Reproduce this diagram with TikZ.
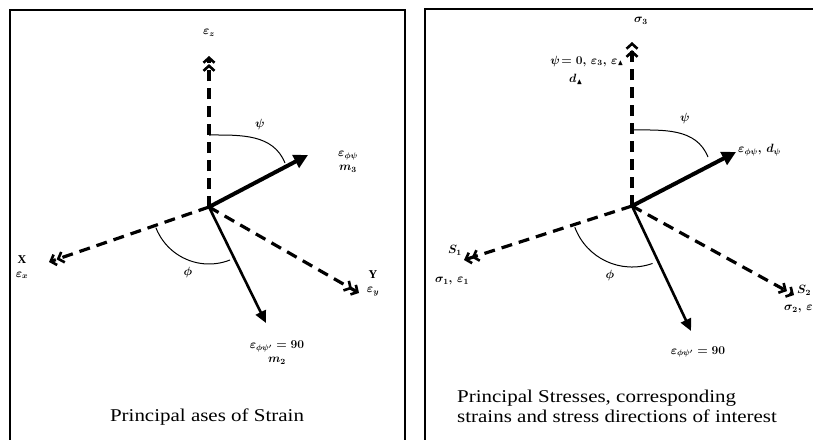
\documentclass[tikz,border=0pt]{standalone}
\usepackage{amsmath,amssymb}
\usepackage{fontspec}
\setmainfont{Liberation Serif}
\usetikzlibrary{arrows.meta,calc}
\tikzset{
  axisline/.style={line width=3.2pt, dash pattern=on 11pt off 7pt,
    -{Straight Barb[length=5pt,width=11pt,line width=2.6pt]Straight Barb[length=5pt,width=11pt,line width=2.6pt]}},
  thickarrow/.style={line width=4pt, -{Triangle[length=14pt,width=14pt]}},
  thinarrow/.style={line width=2.6pt, -{Triangle[length=12pt,width=11pt]}},
  arcline/.style={line width=1pt},
  frameline/.style={line width=1.8pt},
  lbl/.style={inner sep=0pt, font=\fontsize{12}{13}\selectfont\boldmath\bfseries, align=center},
  captext/.style={inner sep=0pt, anchor=base west, font=\fontsize{18}{20}\selectfont}
}
\newcommand{\capstretch}[1]{\scalebox{1.165}[1]{#1}}
\begin{document}
\begin{tikzpicture}[x=1pt,y=-1pt]
\useasboundingbox (0,0) rectangle (813,439);
\clip (0,0) rectangle (813,439);
% frames
\draw[frameline] (10,440) -- (10,10) -- (405,10) -- (405,440);
\draw[frameline] (425,440) -- (425,9) -- (815,9);
% ---------------- left panel ----------------
\coordinate (O1) at (209,207);
\coordinate (Z1) at (209,56);
\coordinate (X1) at (49,262);
\coordinate (Y1) at (359,293);
\coordinate (M3) at (308,155);
\coordinate (M2) at (266,323);
\coordinate (PsiA1) at (209,135);
\coordinate (PsiB1) at (285,163);
\draw[axisline] (O1) -- (Z1);
\draw[axisline] (O1) -- (X1);
\draw[axisline] (O1) -- (Y1);
\draw[thickarrow] (O1) -- (M3);
\draw[thinarrow] (O1) -- (M2);
\draw[arcline] (PsiA1) to[out=0,in=112] (PsiB1);
\draw[arcline] ([shift={(O1)}]158.7:57) arc[start angle=158.7,end angle=68.4,radius=57];
\node[lbl] (lz1) at (209,33) {$\varepsilon_z$};
\node[lbl] (lpsi1) at (260,124) {$\psi$};
\node[lbl] (lm3) at (348,162) {$\varepsilon_{\phi\psi}$\\[1pt]$m_3$};
\node[lbl] (lx1) at (22,267) {X\\[1pt]$\varepsilon_x$};
\node[lbl] (lphi1) at (188,272) {$\phi$};
\node[lbl] (lm2) at (277,353) {$\varepsilon_{\phi\psi'}=90$\\[1pt]$m_2$};
\node[lbl] (ly1) at (373,283) {Y\\[1pt]$\varepsilon_y$};
\node[captext, anchor=base] (cap1) at (207,421) {\capstretch{Principal ases of Strain}};
% ---------------- right panel ----------------
\coordinate (O2) at (632,206);
\coordinate (Z2) at (632,42);
\coordinate (S1) at (464,260);
\coordinate (S2) at (794,295);
\coordinate (D2) at (736,152);
\coordinate (T2) at (691,331);
\coordinate (PsiA2) at (632,130);
\coordinate (PsiB2) at (708,157);
\draw[axisline] (O2) -- (Z2);
\draw[axisline] (O2) -- (S1);
\draw[axisline] (O2) -- (S2);
\draw[thickarrow] (O2) -- (D2);
\draw[thinarrow] (O2) -- (T2);
\draw[arcline] (PsiA2) to[out=0,in=112] (PsiB2);
\draw[arcline] ([shift={(O2)}]159.6:61) arc[start angle=159.6,end angle=70.3,radius=61];
\node[lbl] (lz2) at (641,21) {$\sigma_3$};
\node[lbl, anchor=east] (lpsi0) at (624,61) {$\psi\!=0,\,\varepsilon_3,\,\varepsilon_{\blacktriangle}$};
\node[lbl] (ld) at (576,79) {$d_{\blacktriangle}$};
\node[lbl] (lpsi2) at (685,118) {$\psi$};
\node[lbl, anchor=west] (ldpsi) at (738,150) {$\varepsilon_{\phi\psi},\,d_\psi$};
\node[lbl] (ls1) at (455,250) {$S_1$};
\node[lbl] (ls1b) at (452,281) {$\sigma_1,\,\varepsilon_1$};
\node[lbl] (lphi2) at (610,275) {$\phi$};
\node[lbl] (lt2) at (698,352) {$\varepsilon_{\phi\psi'}=90$};
\node[lbl, anchor=west] (ls2) at (797,290) {$S_2$};
\node[lbl, anchor=west] (ls2b) at (784,309) {$\sigma_2,\,\varepsilon_2$};
\node[captext] (cap2a) at (457,402) {\capstretch{Principal Stresses, corresponding}};
\node[captext] (cap2b) at (457,422) {\capstretch{strains and stress directions of interest}};
\end{tikzpicture}
\end{document}
